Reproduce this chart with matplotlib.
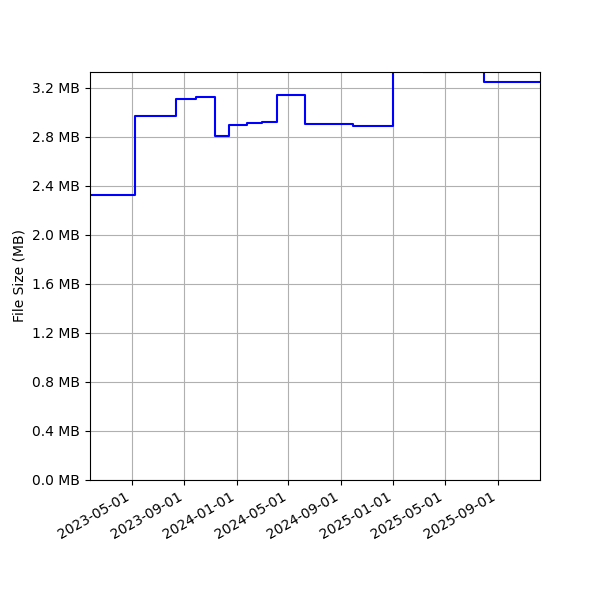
import numpy as np
import pandas as pd
import matplotlib
matplotlib.use("Agg")
import matplotlib.pyplot as plt
import matplotlib.dates as mdates
from matplotlib.ticker import FuncFormatter, MultipleLocator

# commit dates and file size at each commit
dates = ["2023-01-24", "2023-05-10", "2023-08-13", "2023-09-28", "2023-11-11",
         "2023-12-15", "2024-01-25", "2024-03-01", "2024-04-04", "2024-06-08",
         "2024-09-29", "2024-12-30", "2025-03-11", "2025-07-31", "2025-12-09"]
sizes = [2.327, 2.969, 3.110, 3.127, 2.808,
         2.900, 2.914, 2.925, 3.140, 2.905,
         2.887, 3.450, 3.330, 3.245, 3.245]

dates = pd.to_datetime(dates)

fig, ax = plt.subplots(figsize=(6, 6), dpi=100)
ax.plot(dates, sizes, drawstyle="steps-post", color="blue", linewidth=1.5)

ax.set_ylabel("File Size (MB)")
ax.yaxis.set_major_locator(MultipleLocator(0.4))
ax.yaxis.set_major_formatter(FuncFormatter(lambda v, p: "%.1f MB" % v))
ax.set_ylim(0, 3.33)
ax.set_xlim(dates[0], dates[-1])

ax.xaxis.set_major_locator(mdates.MonthLocator(bymonth=[1, 5, 9]))
ax.xaxis.set_major_formatter(mdates.DateFormatter("%Y-%m-%d"))
ax.grid(True)

fig.autofmt_xdate()
fig.subplots_adjust(left=0.15, right=0.9, top=0.88, bottom=0.2)
plt.savefig("out.png")
